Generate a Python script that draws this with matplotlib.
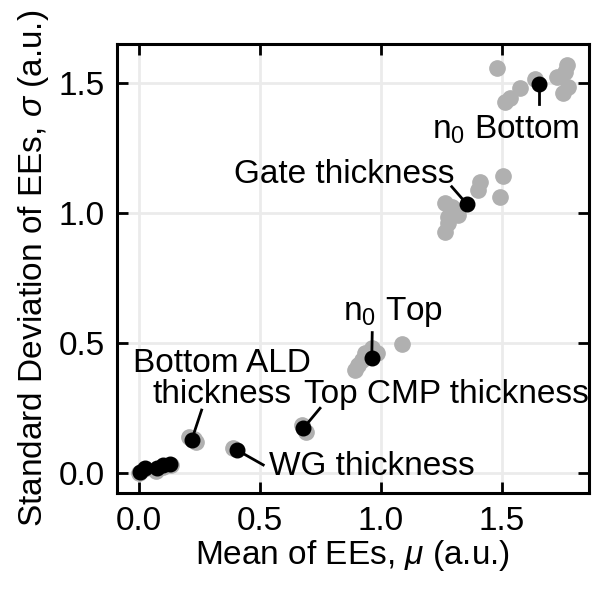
import numpy as np
import matplotlib
matplotlib.use('Agg')
import matplotlib.pyplot as plt

plt.rcParams['font.family'] = ['Liberation Sans', 'DejaVu Sans']
plt.rcParams['mathtext.fontset'] = 'custom'
plt.rcParams['mathtext.rm'] = 'Liberation Sans'
plt.rcParams['mathtext.it'] = 'Liberation Sans:italic'
plt.rcParams['font.size'] = 24

# gray: all sampled parameter sets
gray_mu = [0.0, 0.02, 0.07, 0.10, 0.13,
           0.205, 0.235, 0.225, 0.389, 0.672, 0.69,
           0.962, 0.983, 0.934, 0.92, 0.906, 0.893, 1.086,
           1.507, 1.493, 1.41, 1.403, 1.265, 1.293, 1.32, 1.279, 1.279, 1.265,
           1.479, 1.514, 1.534, 1.576, 1.638, 1.769, 1.762, 1.727, 1.776, 1.755]
gray_sigma = [0.0, 0.015, 0.01, 0.025, 0.03,
              0.14, 0.12, 0.13, 0.096, 0.186, 0.16,
              0.481, 0.462, 0.462, 0.436, 0.417, 0.397, 0.497,
              1.143, 1.064, 1.122, 1.09, 1.038, 1.025, 0.993, 0.987, 0.962, 0.929,
              1.558, 1.429, 1.442, 1.481, 1.515, 1.570, 1.545, 1.525, 1.487, 1.462]

# black: individual variations
black_mu = [0.003, 0.024, 0.072, 0.10, 0.127, 0.217, 0.403, 0.679, 0.962, 1.355, 1.652]
black_sigma = [0.006, 0.019, 0.019, 0.032, 0.036, 0.128, 0.09, 0.173, 0.442, 1.036, 1.497]

# label, index of black point, line start (mu, sigma), text anchor (mu, sigma; last baseline), ha
labels = [
    ('n$_0$ Bottom', 10, (1.652, 1.419), (1.21, 1.286), 'left'),
    ('Gate thickness', 9, (1.293, 1.102), (0.39, 1.115), 'left'),
    ('n$_0$ Top', 8, (0.964, 0.541), (0.845, 0.59), 'left'),
    ('Bottom ALD\nthickness', 5, (0.258, 0.243), (0.341, 0.269), 'center'),
    ('Top CMP thickness', 7, (0.748, 0.25), (0.68, 0.269), 'left'),
    ('WG thickness', 6, (0.513, 0.032), (0.535, -0.0065), 'left'),
]

fig = plt.figure(figsize=(6.14, 5.96), dpi=100)
ax = fig.add_axes([0.1906, 0.1728, 0.7687, 0.7534])

ax.plot(gray_mu, gray_sigma, 'o', color='#b0b0b0', markersize=11, zorder=2)
ax.plot(black_mu, black_sigma, 'o', color='black', markersize=10.5, zorder=3)

for text, i, start, pos, ha in labels:
    ax.plot([start[0], black_mu[i]], [start[1], black_sigma[i]], color='black', lw=2, zorder=3)
    ax.text(pos[0], pos[1], text, ha=ha, va='baseline', linespacing=1.0, zorder=4)

ax.set_xlim(-0.092, 1.861)
ax.set_ylim(-0.076, 1.651)
ax.set_xticks([0.0, 0.5, 1.0, 1.5])
ax.set_yticks([0.0, 0.5, 1.0, 1.5])
ax.grid(True, color='#ebebeb', lw=2, zorder=0)
ax.set_axisbelow(True)
ax.tick_params(direction='in', top=True, right=True, length=8, width=2, pad=9)
for s in ax.spines.values():
    s.set_linewidth(2.2)

ax.set_xlabel(r'Mean of EEs, $\mu$ (a.u.)', labelpad=1)
ax.set_ylabel(r'Standard Deviation of EEs, $\sigma$ (a.u.)', labelpad=5)

fig.savefig('out.png', dpi=100)
